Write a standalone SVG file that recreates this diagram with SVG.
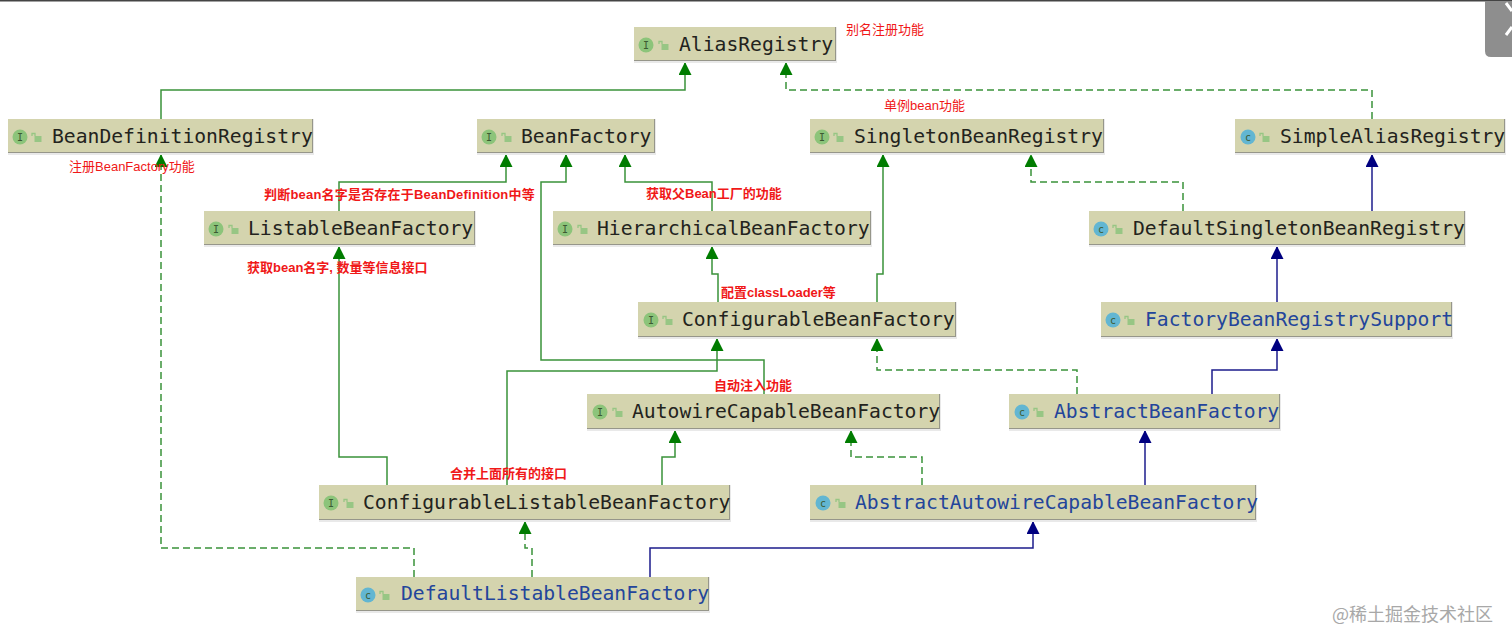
<svg xmlns="http://www.w3.org/2000/svg" width="1512" height="644" viewBox="0 0 1512 644">
<style>
.bg{fill:#fff}
.box{fill:#d4d4ae;stroke:none}
.shade{fill:#96968a}
.halo{fill:#e9e9e9}
.name{font-family:"DejaVu Sans Mono","Liberation Mono",monospace;font-size:19.7px;fill:#23231d}
.name.cls{fill:#23459b}
.badge{font-family:"DejaVu Sans Mono",monospace;font-size:10px;text-anchor:middle;fill:#3c5a32}
.ic{fill:#8cc47a}
.cc{fill:#62b6d2}
.lock{fill:#97c684}
.note{font-family:"Liberation Sans","Noto Sans CJK SC",sans-serif;font-size:13px;fill:#f01818}
.note.b{font-weight:700}
.note.wide{letter-spacing:.2px}
.c{fill:none;stroke-width:1.5}
.g{stroke:#3a923a}
.n{stroke:#1c1c8c}
.d{stroke-dasharray:7 4}
.mark{font-family:"Noto Sans CJK SC",sans-serif;font-size:18px;fill:#a8a8a8}
</style>
<defs>
<marker id="ag" markerUnits="userSpaceOnUse" markerWidth="14" markerHeight="14" refX="12" refY="6.5" orient="auto"><path d="M0 0L13 6.5L0 13Z" fill="#007c00"/></marker>
<marker id="an" markerUnits="userSpaceOnUse" markerWidth="14" markerHeight="14" refX="12" refY="6.5" orient="auto"><path d="M0 0L13 6.5L0 13Z" fill="#000080"/></marker>
<g id="lk"><rect class="lock" x="1.500" y="3" width="7" height="6"/><path d="M2 3V0.500H-1V3" fill="none" stroke="#97c684" stroke-width="1.3"/></g>
</defs>
<rect class="bg" width="1512" height="644"/>
<rect width="1512" height="1.500" fill="#444"/>
<g id="overlay-button">
<path d="M1485 1H1512V57H1491Q1485 57 1485 51Z" fill="#8e8e8e"/>
<path d="M1506 3L1512 11M1512 27L1506 35" stroke="#fff" stroke-width="3" fill="none"/>
</g>

<g id="connectors">
<path class="c g" marker-end="url(#ag)" d="M161 119V90H685V63"/>
<path class="c g d" marker-end="url(#ag)" d="M1372 119V90H786V63"/>
<path class="c g" marker-end="url(#ag)" d="M339 211V182H506V155"/>
<path class="c g" marker-end="url(#ag)" d="M712 211V182H625V155"/>
<path class="c g" marker-end="url(#ag)" d="M718 302V274H712V247"/>
<path class="c g" marker-end="url(#ag)" d="M877 302V274H883V155"/>
<path class="c g d" marker-end="url(#ag)" d="M1183 211V182H1031V155"/>
<path class="c n" marker-end="url(#an)" d="M1372 211V155"/>
<path class="c n" marker-end="url(#an)" d="M1277 302V247"/>
<path class="c n" marker-end="url(#an)" d="M1212 394V370H1277V339"/>
<path class="c g d" marker-end="url(#ag)" d="M1077 394V370H877V339"/>
<path class="c g" marker-end="url(#ag)" d="M764 394V360H541V182H566V155"/>
<path class="c g" marker-end="url(#ag)" d="M507 485V371H717V339"/>
<path class="c g" marker-end="url(#ag)" d="M387 485V457H339V247"/>
<path class="c g" marker-end="url(#ag)" d="M662 485V457H675V431"/>
<path class="c g d" marker-end="url(#ag)" d="M922 485V457H851V431"/>
<path class="c n" marker-end="url(#an)" d="M1145 485V431"/>
<path class="c g d" marker-end="url(#ag)" d="M532 577V548H525V522"/>
<path class="c g d" marker-end="url(#ag)" d="M414 577V548H161V155"/>
<path class="c n" marker-end="url(#an)" d="M650 577V548H1033V522"/>
</g>

<g id="AliasRegistry"><rect class="halo" x="634" y="27" width="203" height="36"/><rect class="shade" x="634" y="27" width="202" height="34"/><rect class="box" x="634" y="27" width="201" height="33"/><circle class="ic" cx="646" cy="45" r="7.5"/><text class="badge" x="646" y="48.500">I</text><use href="#lk" x="660" y="41"/><text class="name" x="679" y="51">AliasRegistry</text></g>
<g id="BeanDefinitionRegistry"><rect class="halo" x="8" y="119" width="306" height="36"/><rect class="shade" x="8" y="119" width="305" height="34"/><rect class="box" x="8" y="119" width="304" height="33"/><circle class="ic" cx="20" cy="137" r="7.5"/><text class="badge" x="20" y="140.500">I</text><use href="#lk" x="33" y="133"/><text class="name" x="52" y="143">BeanDefinitionRegistry</text></g>
<g id="BeanFactory"><rect class="halo" x="477" y="119" width="179" height="36"/><rect class="shade" x="477" y="119" width="178" height="34"/><rect class="box" x="477" y="119" width="177" height="33"/><circle class="ic" cx="489" cy="137" r="7.5"/><text class="badge" x="489" y="140.500">I</text><use href="#lk" x="503" y="133"/><text class="name" x="521" y="143">BeanFactory</text></g>
<g id="SingletonBeanRegistry"><rect class="halo" x="810" y="119" width="295" height="36"/><rect class="shade" x="810" y="119" width="294" height="34"/><rect class="box" x="810" y="119" width="293" height="33"/><circle class="ic" cx="822" cy="137" r="7.5"/><text class="badge" x="822" y="140.500">I</text><use href="#lk" x="835" y="133"/><text class="name" x="854" y="143">SingletonBeanRegistry</text></g>
<g id="SimpleAliasRegistry"><rect class="halo" x="1235" y="119" width="271" height="36"/><rect class="shade" x="1235" y="119" width="270" height="34"/><rect class="box" x="1235" y="119" width="269" height="33"/><circle class="cc" cx="1248" cy="137" r="7.5"/><text class="badge" x="1248" y="140.500">c</text><use href="#lk" x="1261" y="133"/><text class="name" x="1280" y="143">SimpleAliasRegistry</text></g>
<g id="ListableBeanFactory"><rect class="halo" x="204" y="211" width="272" height="36"/><rect class="shade" x="204" y="211" width="271" height="34"/><rect class="box" x="204" y="211" width="270" height="33"/><circle class="ic" cx="216" cy="229" r="7.5"/><text class="badge" x="216" y="232.500">I</text><use href="#lk" x="230" y="225"/><text class="name" x="248" y="235">ListableBeanFactory</text></g>
<g id="HierarchicalBeanFactory"><rect class="halo" x="553" y="211" width="319" height="36"/><rect class="shade" x="553" y="211" width="318" height="34"/><rect class="box" x="553" y="211" width="317" height="33"/><circle class="ic" cx="565" cy="229" r="7.5"/><text class="badge" x="565" y="232.500">I</text><use href="#lk" x="579" y="225"/><text class="name" x="597" y="235">HierarchicalBeanFactory</text></g>
<g id="DefaultSingletonBeanRegistry"><rect class="halo" x="1089" y="211" width="377" height="36"/><rect class="shade" x="1089" y="211" width="376" height="34"/><rect class="box" x="1089" y="211" width="375" height="33"/><circle class="cc" cx="1101" cy="229" r="7.5"/><text class="badge" x="1101" y="232.500">c</text><use href="#lk" x="1114" y="225"/><text class="name" x="1133" y="235">DefaultSingletonBeanRegistry</text></g>
<g id="ConfigurableBeanFactory"><rect class="halo" x="638" y="302" width="319" height="37"/><rect class="shade" x="638" y="302" width="318" height="35"/><rect class="box" x="638" y="302" width="317" height="34"/><circle class="ic" cx="651" cy="320" r="7.5"/><text class="badge" x="651" y="323.500">I</text><use href="#lk" x="664" y="316"/><text class="name" x="682" y="326">ConfigurableBeanFactory</text></g>
<g id="FactoryBeanRegistrySupport"><rect class="halo" x="1101" y="302" width="352" height="37"/><rect class="shade" x="1101" y="302" width="351" height="35"/><rect class="box" x="1101" y="302" width="350" height="34"/><circle class="cc" cx="1113" cy="320" r="7.5"/><text class="badge" x="1113" y="323.500">c</text><use href="#lk" x="1126" y="316"/><text class="name cls" x="1145" y="326">FactoryBeanRegistrySupport</text></g>
<g id="AutowireCapableBeanFactory"><rect class="halo" x="587" y="394" width="354" height="37"/><rect class="shade" x="587" y="394" width="353" height="35"/><rect class="box" x="587" y="394" width="352" height="34"/><circle class="ic" cx="600" cy="412" r="7.5"/><text class="badge" x="600" y="415.500">I</text><use href="#lk" x="614" y="408"/><text class="name" x="632" y="418">AutowireCapableBeanFactory</text></g>
<g id="AbstractBeanFactory"><rect class="halo" x="1009" y="394" width="272" height="37"/><rect class="shade" x="1009" y="394" width="271" height="35"/><rect class="box" x="1009" y="394" width="270" height="34"/><circle class="cc" cx="1022" cy="412" r="7.5"/><text class="badge" x="1022" y="415.500">c</text><use href="#lk" x="1035" y="408"/><text class="name cls" x="1054" y="418">AbstractBeanFactory</text></g>
<g id="ConfigurableListableBeanFactory"><rect class="halo" x="319" y="485" width="412" height="37"/><rect class="shade" x="319" y="485" width="411" height="35"/><rect class="box" x="319" y="485" width="410" height="34"/><circle class="ic" cx="331" cy="503" r="7.5"/><text class="badge" x="331" y="506.500">I</text><use href="#lk" x="345" y="499"/><text class="name" x="363" y="509">ConfigurableListableBeanFactory</text></g>
<g id="AbstractAutowireCapableBeanFactory"><rect class="halo" x="810" y="485" width="447" height="37"/><rect class="shade" x="810" y="485" width="446" height="35"/><rect class="box" x="810" y="485" width="445" height="34"/><circle class="cc" cx="823" cy="503" r="7.5"/><text class="badge" x="823" y="506.500">c</text><use href="#lk" x="837" y="499"/><text class="name cls" x="855" y="509">AbstractAutowireCapableBeanFactory</text></g>
<g id="DefaultListableBeanFactory"><rect class="halo" x="356" y="577" width="354" height="36"/><rect class="shade" x="356" y="577" width="353" height="34"/><rect class="box" x="356" y="577" width="352" height="33"/><circle class="cc" cx="368" cy="595" r="7.5"/><text class="badge" x="368" y="598.500">c</text><use href="#lk" x="381" y="591"/><text class="name cls" x="401" y="600">DefaultListableBeanFactory</text></g>

<g id="notes">
<text class="note" x="846" y="34">别名注册功能</text>
<text class="note" x="884" y="110">单例bean功能</text>
<text class="note" x="69" y="171">注册BeanFactory功能</text>
<text class="note b wide" x="264" y="199">判断bean名字是否存在于BeanDefinition中等</text>
<text class="note b" x="646" y="198">获取父Bean工厂的功能</text>
<text class="note b" x="247" y="272">获取bean名字, 数量等信息接口</text>
<text class="note b" x="721" y="297">配置classLoader等</text>
<text class="note b" x="714" y="390">自动注入功能</text>
<text class="note b" x="450" y="478">合并上面所有的接口</text>
</g>
<text class="mark" x="1332" y="621">@稀土掘金技术社区</text>
</svg>
